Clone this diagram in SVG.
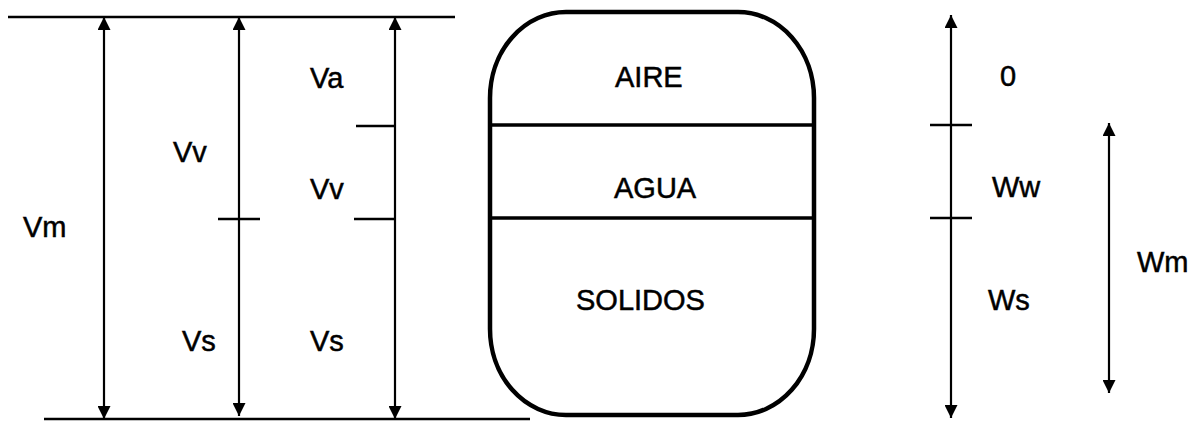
<svg xmlns="http://www.w3.org/2000/svg" width="1201" height="423" viewBox="0 0 1201 423">
<style>
.t{font-family:"Liberation Sans",Arial,sans-serif;font-size:29px;fill:#000;stroke:#000;stroke-width:0.5}
.ln{stroke:#000;stroke-width:2.5;fill:none}
.ar{stroke:#000;stroke-width:2.2;fill:none;marker-start:url(#ah);marker-end:url(#ah)}
.tk{stroke:#000;stroke-width:2.5}
</style>
<defs>
<marker id="ah" viewBox="0 0 12 12" refX="12" refY="6" markerWidth="13" markerHeight="13" markerUnits="userSpaceOnUse" orient="auto-start-reverse">
<path d="M0,0 L12,6 L0,12 z" fill="#000"/>
</marker>
</defs>
<rect width="1201" height="423" fill="#fff"/>
<g id="connectors">
<line class="ln" x1="8" y1="17" x2="455" y2="17"/>
<line class="ln" x1="44" y1="419" x2="530" y2="419"/>
<line class="ar" x1="104" y1="17" x2="104" y2="419"/>
<line class="ar" x1="239" y1="17" x2="239" y2="416"/>
<line class="ar" x1="395" y1="17" x2="395" y2="419"/>
<line class="tk" x1="218" y1="219" x2="260" y2="219"/>
<line class="tk" x1="356" y1="126" x2="395" y2="126"/>
<line class="tk" x1="354" y1="219" x2="395" y2="219"/>
<line class="ar" x1="951" y1="15" x2="951" y2="418"/>
<line class="tk" x1="930" y1="125" x2="972" y2="125"/>
<line class="tk" x1="930" y1="218" x2="972" y2="218"/>
<line class="ar" x1="1109" y1="123" x2="1109" y2="393"/>
</g>
<g id="sample">
<rect x="490" y="12" width="324" height="403" rx="76" ry="86" fill="none" stroke="#000" stroke-width="4.5"/>
<line x1="490" y1="125" x2="814" y2="125" stroke="#000" stroke-width="3.5"/>
<line x1="490" y1="218" x2="814" y2="218" stroke="#000" stroke-width="3.5"/>
<text class="t" x="615" y="87">AIRE</text>
<text class="t" x="614" y="198">AGUA</text>
<text class="t" x="576" y="310">SOLIDOS</text>
</g>
<g id="labels">
<text class="t" x="23" y="237">Vm</text>
<text class="t" x="173" y="162">Vv</text>
<text class="t" x="182" y="351">Vs</text>
<text class="t" x="310" y="88">Va</text>
<text class="t" x="310" y="199">Vv</text>
<text class="t" x="310" y="351">Vs</text>
<text class="t" x="1000" y="86">0</text>
<text class="t" x="992" y="197">Ww</text>
<text class="t" x="988" y="310">Ws</text>
<text class="t" x="1137" y="272">Wm</text>
</g>
</svg>
